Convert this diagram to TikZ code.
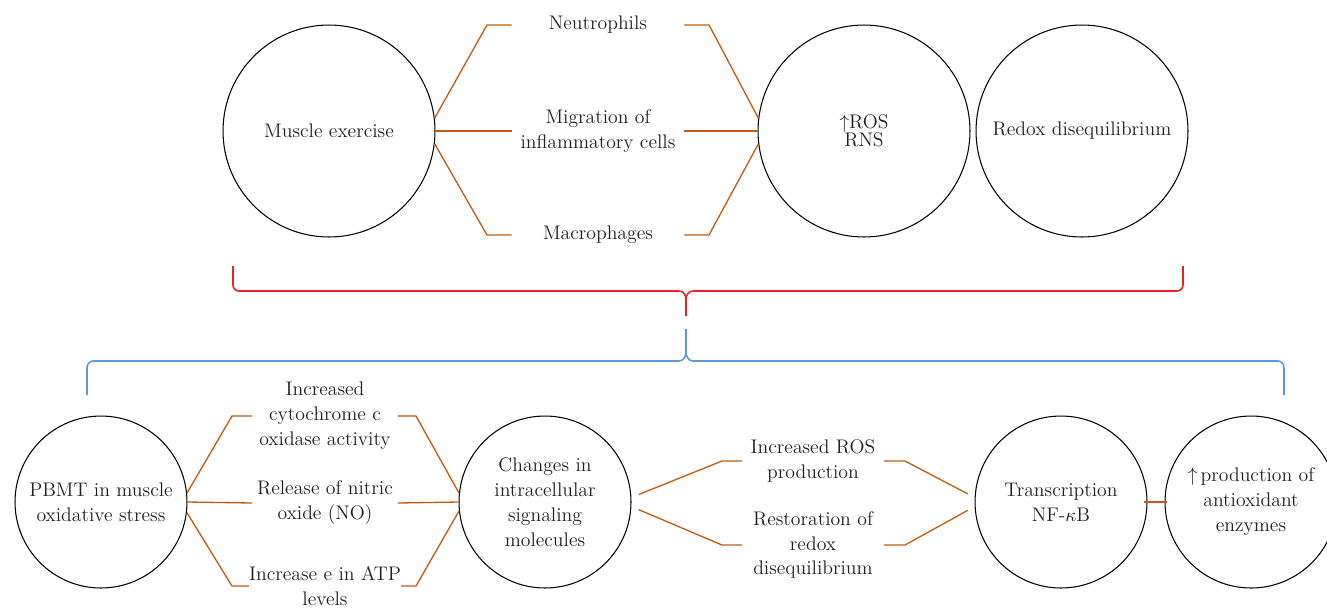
\documentclass[tikz,border=0pt]{standalone}
\usepackage{amsmath}
\usepackage{tikz}
\usetikzlibrary{shapes,arrows}
\definecolor{linkorange}{RGB}{197,90,17}
\definecolor{bracered}{RGB}{230,35,35}
\definecolor{braceblue}{RGB}{91,155,213}
\definecolor{txtgray}{RGB}{35,31,32}
\newcommand{\txtfont}{\fontsize{11.2}{14.2}\selectfont}
\tikzstyle{bigcircle} = [draw=black, circle, line width=0.6pt, inner sep=0pt, minimum size=4.24cm, align=center, font=\txtfont, text=txtgray]
\tikzstyle{smallcircle} = [bigcircle, minimum size=3.44cm]
\tikzstyle{effect} = [rectangle, inner sep=0pt, minimum width=2.9cm, align=center, font=\txtfont, text=txtgray]
\tikzstyle{link} = [draw=linkorange, line width=0.75pt]
\tikzstyle{redbrace} = [draw=bracered, line width=0.9pt]
\tikzstyle{bluebrace} = [draw=braceblue, line width=0.9pt]

\begin{document}
\begin{tikzpicture}[x=0.02cm, y=-0.02cm]
	\useasboundingbox (0,0) rectangle (1327,609);
	% upper row
	\node [bigcircle] (muscle) at (329,131) {Muscle exercise};
	\node [bigcircle] (ros) at (864,131) {$\uparrow$ROS\\[-4pt]RNS};
	\node [bigcircle] (redox) at (1082,131) {Redox disequilibrium};
	\node [effect, minimum width=3.44cm] (neutro) at (598,25) {Neutrophils};
	\node [effect, minimum width=3.44cm] (migra) at (598,131) {Migration of\\inflammatory cells};
	\node [effect, minimum width=3.44cm] (macro) at (598,235) {Macrophages};
	\draw [link] (muscle.7) -- (487,25) -- (neutro.west);
	\draw [link] (muscle.0) -- (migra.west);
	\draw [link] (muscle.-7) -- (487,235) -- (macro.west);
	\draw [link] (neutro.east) -- (709,25) -- (ros.173);
	\draw [link] (migra.east) -- (ros.180);
	\draw [link] (macro.east) -- (709,235) -- (ros.187);
	% braces
	\draw [redbrace] (233,266) -- (233,285) to[out=-90,in=180] (239,291) -- (679,291) to[out=0,in=90] (686,299) -- (686,316);
	\draw [redbrace] (1183,266) -- (1183,285) to[out=-90,in=0] (1177,291) -- (693,291) to[out=180,in=90] (686,299);
	\draw [bluebrace] (87,395) -- (87,368) to[out=90,in=180] (93,361) -- (679,361) to[out=0,in=-90] (686,352) -- (686,329);
	\draw [bluebrace] (1284,395) -- (1284,368) to[out=90,in=0] (1278,361) -- (693,361) to[out=180,in=-90] (686,352);
	% lower row
	\node [smallcircle] (pbmt) at (101,502) {PBMT in muscle\\oxidative stress};
	\node [smallcircle] (changes) at (545,502) {Changes in\\intracellular\\signaling\\molecules};
	\node [smallcircle] (nfkb) at (1061,502) {Transcription\\NF-$\kappa$B};
	\node [smallcircle] (antiox) at (1251,502) {$\uparrow$\,production of\\antioxidant\\enzymes};
	\node [effect] (cyto) at (325,416) {Increased\\cytochrome c\\oxidase activity};
	\node [effect] (nitric) at (325,503) {Release of nitric\\oxide (NO)};
	\node [effect] (atp) at (325,586) {Increase e in ATP\\levels};
	\node [effect, minimum width=2.82cm] (rosprod) at (813,461) {Increased ROS\\production};
	\node [effect, minimum width=2.82cm] (restore) at (813,545) {Restoration of\\redox\\disequilibrium};
	\draw [link] (pbmt.6) -- (232,416) -- (cyto.west);
	\draw [link] (pbmt.0) -- (nitric.west);
	\draw [link] (pbmt.-7) -- (232,586) -- (atp.west);
	\draw [link] (cyto.east) -- (416,416) -- (changes.174);
	\draw [link] (nitric.east) -- (changes.180);
	\draw [link] (atp.east) -- (416,586) -- (changes.186);
	\draw [link, shorten <=4.5pt] (changes.3) -- (722,461) -- (rosprod.west);
	\draw [link, shorten <=4.5pt] (changes.-3) -- (722,545) -- (restore.west);
	\draw [link, shorten >=4.5pt] (rosprod.east) -- (905,461) -- (nfkb.177);
	\draw [link, shorten >=4.5pt] (restore.east) -- (905,545) -- (nfkb.183);
	\draw [link, shorten <=-2pt, shorten >=-1.5pt] (nfkb.east) -- (antiox.west);
\end{tikzpicture}
\end{document}
